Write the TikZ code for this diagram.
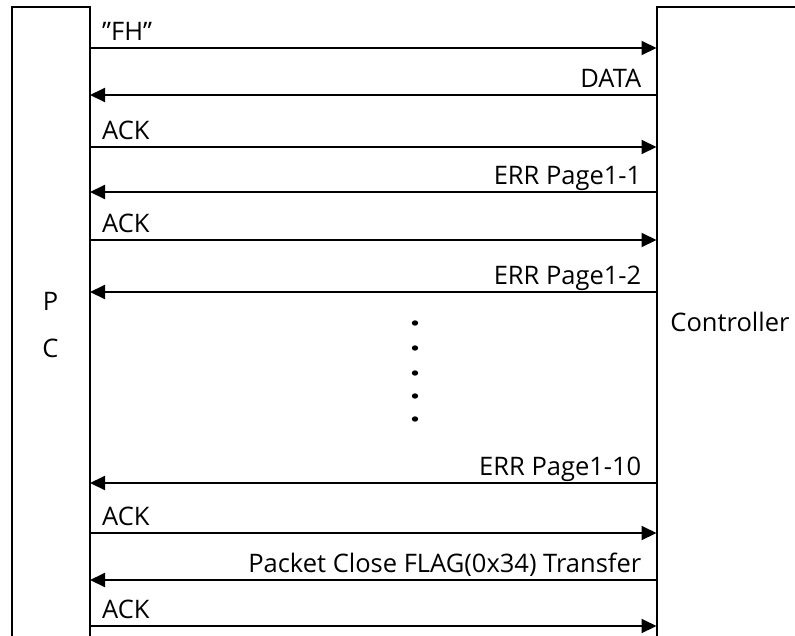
\documentclass[tikz,border=0pt]{standalone}
\usepackage{fontspec}
\setmainfont{Open Sans}
\usetikzlibrary{arrows.meta}
\begin{document}
\begin{tikzpicture}[x=1pt, y=-1pt, font=\fontsize{25.5}{28}\selectfont,
    box/.style={line width=2pt},
    msg/.style={line width=2pt, -{Triangle[length=15pt, width=14pt]}}]
  \useasboundingbox (0,0) rectangle (795,635);
  % the two sides
  \draw[box] (11.5,640) -- (11.5,6.5) -- (90,6.5) -- (90,640);
  \draw[box] (800,6.5) -- (656.5,6.5) -- (656.5,640);
  \node (p) at (50.5,301) {P};
  \node (c) at (50.5,348) {C};
  \node (ctrl) at (730,322) {Controller};
  % PC -> Controller
  \foreach \i/\y/\t in {1/48/{"FH"}, 3/147/ACK, 5/240/ACK, 8/533/ACK, 10/626/ACK} {
    \coordinate (pc\i) at (90,\y);
    \coordinate (ct\i) at (656.5,\y);
    \draw[msg] (pc\i) -- (ct\i);
    \node[anchor=base west, inner sep=0pt] (m\i) at ([xshift=12pt, yshift=7.5pt]pc\i) {\t};
  }
  % Controller -> PC
  \foreach \i/\y/\t in {2/95/DATA, 4/192/ERR\ Page1-1, 6/292/ERR\ Page1-2,
      7/483/ERR\ Page1-10, 9/580/Packet\ Close\ FLAG(0x34)\ Transfer} {
    \coordinate (pc\i) at (90,\y);
    \coordinate (ct\i) at (656.5,\y);
    \draw[msg] (ct\i) -- (pc\i);
    \node[anchor=base east, inner sep=0pt] (m\i) at ([xshift=-15pt, yshift=7.5pt]ct\i) {\t};
  }
  % skipped pages
  \foreach \y in {323, 348, 373, 396, 419}
    \fill (415,\y) ellipse (3.2pt and 2.7pt);
\end{tikzpicture}
\end{document}
